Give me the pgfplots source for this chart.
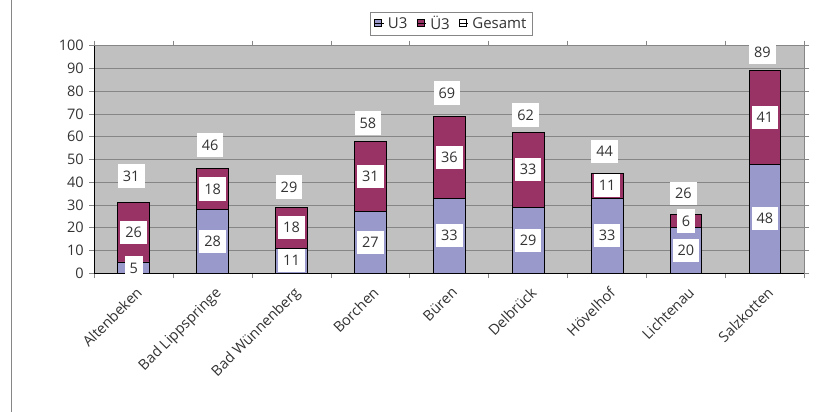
\documentclass[border=0pt]{standalone}
\usepackage{pgfplots}
\pgfplotsset{compat=1.18}
\usepackage{fontspec}
\setmainfont{Open Sans}
\definecolor{lav}{HTML}{9999CC}
\definecolor{mar}{HTML}{993366}
\definecolor{bg}{HTML}{C0C0C0}
\definecolor{grd}{HTML}{868686}
\definecolor{txt}{HTML}{333333}
\pgfplotsset{
  base/.style={
    at={(94.3pt,138.7pt)}, anchor=south west, scale only axis,
    width=710pt, height=227.6pt,
    xmin=-0.5, xmax=8.5, ymin=0, ymax=100,
  },
  lbl/.style={
    draw=none, mark=none, nodes near coords, point meta=explicit symbolic,
    every node near coord/.append style={anchor=center, fill=white, text=txt,
      font=\fontsize{14.5}{16}\selectfont, inner xsep=5pt, inner ysep=6.5pt,
      text height=10.4pt, text depth=0pt},
  },
}
\begin{document}
\begin{tikzpicture}[x=1pt,y=1pt]
\path[use as bounding box] (0,0) rectangle (822,412);
\draw[grd, line width=1pt] (11.7,0) -- (11.7,412);
\begin{axis}[base,
  ybar stacked, bar width=31.7pt,
  axis background/.style={fill=bg},
  axis line style={grd, line width=0.8pt},
  ytick={0,10,...,100}, ymajorgrids, grid style={grd, line width=0.8pt},
  xtick={0,...,8},
  minor xtick={-0.5,0.5,...,8.5},
  xticklabels={Altenbeken,Bad Lippspringe,Bad Wünnenberg,Borchen,Büren,Delbrück,Hövelhof,Lichtenau,Salzkotten},
  tick align=outside, major tick length=5pt, minor tick length=5pt,
  major x tick style={draw=none},
  tick style={grd, line width=0.8pt},
  x tick label style={rotate=45, anchor=north east, text=txt, font=\fontsize{14.5}{16}\selectfont, xshift=-1pt, yshift=-3pt},
  y tick label style={text=txt, font=\fontsize{14.5}{16}\selectfont, xshift=-2pt},
  /pgf/number format/assume math mode=true,
  legend columns=-1,
  legend style={at={(0.3883,1.1494)}, anchor=north west, draw=grd, fill=white,
    text=txt, font=\fontsize{15}{17}\selectfont, inner xsep=4pt, inner ysep=2pt,
    /tikz/every odd column/.append style={column sep=2pt},
    /tikz/every even column/.append style={column sep=7pt}},
  legend image code/.code={\draw[#1, draw=black, line width=0.7pt] (0pt,-3.5pt) rectangle (7pt,3.5pt); \path (0pt,0pt) -- (9pt,0pt);},
  after end axis/.code={
    \draw[black, line width=1pt] (rel axis cs:0,1) -- (rel axis cs:0,0) -- (rel axis cs:1,0);
  },
]
\addplot[fill=lav, draw=black, line width=0.8pt] coordinates {
  (0,5) (1,28) (2,11) (3,27) (4,33) (5,29) (6,33) (7,20) (8,48)};
\addlegendentry{U3}
\addplot[fill=mar, draw=black, line width=0.8pt] coordinates {
  (0,26) (1,18) (2,18) (3,31) (4,36) (5,33) (6,11) (7,6) (8,41)};
\addlegendentry{Ü3}
\addlegendimage{fill=white}
\addlegendentry{Gesamt}
\end{axis}
% U3 labels (clipped to plot area)
\begin{axis}[base, hide axis, clip=true]
\addplot[lbl] coordinates {
  (0,2.4)[5] (1,14)[28] (2,5.5)[11] (3,13.5)[27] (4,16.5)[33]
  (5,14.5)[29] (6,16.5)[33] (7,10)[20] (8,24)[48]};
\end{axis}
% Ü3 and Gesamt labels
\begin{axis}[base, hide axis, clip=false]
\addplot[lbl] coordinates {
  (0,18)[26] (1,37)[18] (2,20)[18] (3,42.5)[31] (4,51)[36]
  (5,45.5)[33] (6,38.5)[11] (7,23)[6] (8,68.5)[41]};
\addplot[lbl, every node near coord/.append style={xshift=-2.5pt}] coordinates {
  (0,42.7)[31] (1,56.4)[46] (2,37.9)[29] (3,66.1)[58] (4,79.2)[69]
  (5,69.6)[62] (6,53.4)[44] (7,35.1)[26] (8,96.9)[89]};
\end{axis}
\end{tikzpicture}
\end{document}
